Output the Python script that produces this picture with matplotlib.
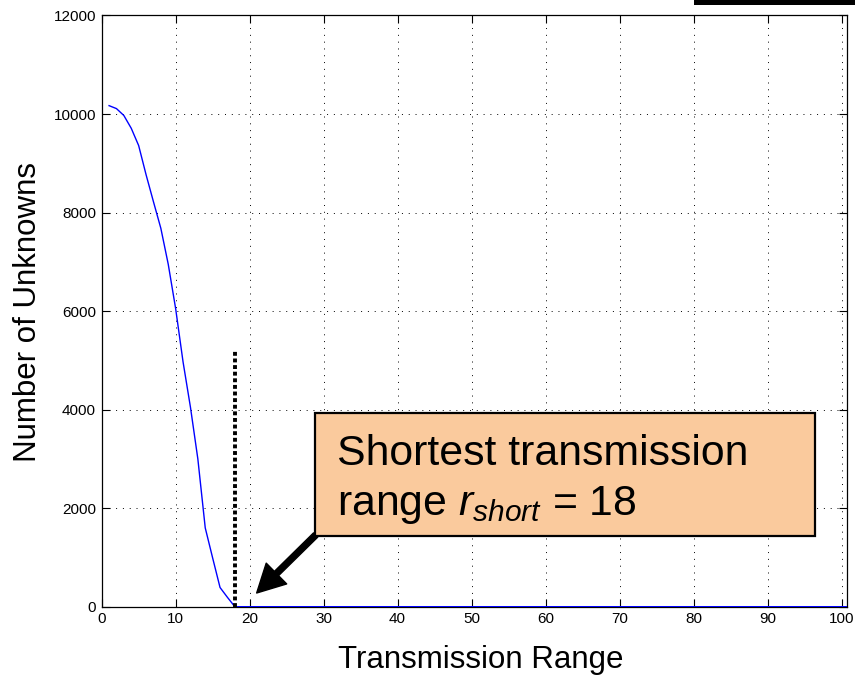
import matplotlib
matplotlib.use("Agg")
from matplotlib import pyplot as plt
from matplotlib.patches import Rectangle
import numpy as np

plt.rcParams['font.family'] = ['Liberation Sans', 'DejaVu Sans']
plt.rcParams['mathtext.fontset'] = 'custom'
plt.rcParams['mathtext.rm'] = 'Liberation Sans'
plt.rcParams['mathtext.it'] = 'Liberation Sans:italic'

# number of unknowns vs transmission range
tx_range = list(range(1, 102))
unknowns_head = [10170, 10110, 9970, 9710, 9360, 8770, 8220, 7680, 6950,
                 6050, 4970, 4050, 3000, 1600, 990, 390, 190, 0]
unknowns = unknowns_head + [0] * (len(tx_range) - len(unknowns_head))

r_short = 18
marker_top = 5200

x_ticks = list(range(0, 101, 10))
y_ticks = list(range(0, 12001, 2000))

fig = plt.figure(figsize=(8.55, 6.76), dpi=100)
ax = fig.add_axes([0.1189, 0.1025, 0.8714, 0.8746])

ax.plot(tx_range, unknowns, color='#0000FF', lw=1.0, zorder=3)
ax.plot([r_short, r_short], [0, marker_top], color='k', lw=2.8,
        linestyle=(0, (1, 0.7)), dash_capstyle='butt', zorder=4,
        clip_on=False)

ax.set_xlim(0, 100.7)
ax.set_ylim(0, 12000)
ax.set_xticks(x_ticks)
ax.set_yticks(y_ticks)
ax.tick_params(direction='in', length=5.5, width=0.8, labelsize=11,
               top=True, right=True, pad=4)
ax.grid(True, color='k', lw=0.7, linestyle=(0, (1, 6)))
for s in ax.spines.values():
    s.set_linewidth(0.9)

# callout box with arrow pointing at r_short
ax.annotate('', xy=(20.95, 278), xytext=(28.92, 1455),
            arrowprops=dict(facecolor='k', edgecolor='k', width=4.3,
                            headwidth=21, headlength=20, shrink=0),
            zorder=5, annotation_clip=False)
ax.add_patch(Rectangle((28.82, 1435), 96.4 - 28.82, 3925 - 1435,
                       facecolor='#FACA9D', edgecolor='k', lw=1.6,
                       zorder=6))
ax.text(31.76, 2870, 'Shortest transmission', fontsize=30.8,
        va='baseline', ha='left', zorder=7)
ax.text(31.76, 1861, 'range $r_{short}$ = %d' % r_short, fontsize=30.8,
        va='baseline', ha='left', zorder=7)

fig.text(480.5 / 855, 1 - 668 / 676, 'Transmission Range', fontsize=22.5,
         ha='center', va='baseline')
fig.text(36 / 855, 1 - 312.3 / 676, 'Number of Unknowns', fontsize=22.5,
         ha='center', va='baseline', rotation=90, rotation_mode='anchor')

# black strip at top right
fig.patches.append(Rectangle((694 / 855, 1 - 5 / 676), 161 / 855, 5 / 676,
                             transform=fig.transFigure, facecolor='k',
                             edgecolor='none'))

fig.savefig('out.png', dpi=100)
